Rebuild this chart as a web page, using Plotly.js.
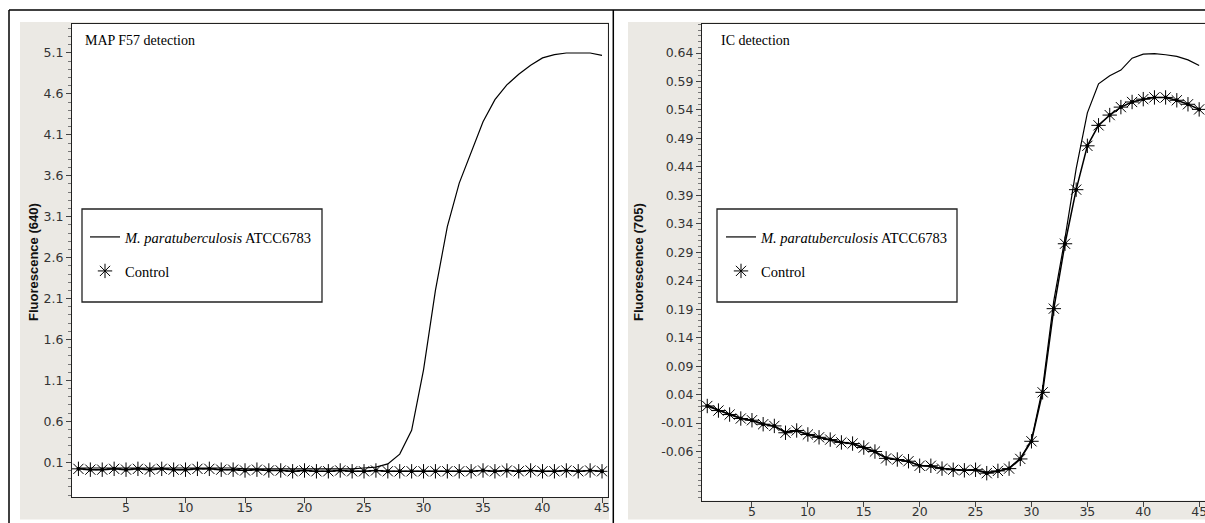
<!DOCTYPE html>
<html>
<head>
<meta charset="utf-8">
<script src="https://cdn.plot.ly/plotly-3.0.1.min.js"></script>
<style>
html,body{margin:0;padding:0;overflow:hidden;background:#fff;}
#chart{width:1215px;height:523px;}
</style>
</head>
<body>
<div id="chart"></div>
<script>
// ---------- data ----------
const cycles = [1,2,3,4,5,6,7,8,9,10,11,12,13,14,15,16,17,18,19,20,21,22,23,24,25,26,27,28,29,30,31,32,33,34,35,36,37,38,39,40,41,42,43,44,45];

// Left panel: MAP F57 detection, Fluorescence (640)
const mapF57 = [0.03,0.03,0.03,0.03,0.03,0.03,0.03,0.03,0.03,0.03,0.03,0.03,0.03,0.03,0.02,0.02,0.02,0.02,0.02,0.02,0.02,0.02,0.02,0.02,0.03,0.04,
  0.08,0.20,0.49,1.23,2.20,2.98,3.51,3.89,4.26,4.53,4.71,4.84,4.95,5.04,5.08,5.10,5.10,5.10,5.07];
const ctrlF57 = [0.02,0.01,0.01,0.02,0.01,0.02,0.01,0.02,0.01,0.01,0.02,0.02,0.01,0.01,0.00,0.01,0.00,0.00,-0.01,0.00,-0.01,-0.01,0.00,-0.01,-0.01,
  0.00,-0.01,-0.01,-0.01,-0.01,-0.01,-0.01,-0.01,-0.01,0.00,-0.01,0.00,-0.01,0.00,-0.01,-0.01,0.00,-0.01,0.00,-0.01];

// Right panel: IC detection, Fluorescence (705)
const mapIC = [0.022,0.013,0.006,-0.001,-0.006,-0.011,-0.016,-0.025,-0.024,-0.030,-0.035,-0.040,-0.043,-0.047,-0.053,-0.061,-0.070,-0.074,-0.078,-0.084,
  -0.086,-0.089,-0.092,-0.093,-0.093,-0.096,-0.095,-0.089,-0.072,-0.040,0.052,0.205,0.315,0.437,0.535,0.586,0.600,0.610,0.631,0.638,0.639,0.637,0.634,0.628,0.618];
const ctrlIC = [0.020,0.012,0.005,-0.002,-0.005,-0.012,-0.015,-0.027,-0.023,-0.030,-0.035,-0.039,-0.044,-0.046,-0.053,-0.060,-0.072,-0.074,-0.077,-0.085,
  -0.085,-0.090,-0.092,-0.093,-0.092,-0.098,-0.094,-0.090,-0.073,-0.042,0.044,0.191,0.305,0.400,0.477,0.513,0.531,0.545,0.554,0.559,0.562,0.562,0.557,0.550,0.541];

// tick labels
const xTicks = [5,10,15,20,25,30,35,40,45];
const yTicksLeft = [0.1,0.6,1.1,1.6,2.1,2.6,3.1,3.6,4.1,4.6,5.1];
const yTickTextLeft = ["0.1","0.6","1.1","1.6","2.1","2.6","3.1","3.6","4.1","4.6","5.1"];
const yTicksRight = [-0.06,-0.01,0.04,0.09,0.14,0.19,0.24,0.29,0.34,0.39,0.44,0.49,0.54,0.59,0.64];
const yTickTextRight = ["-0.06","-0.01","0.04","0.09","0.14","0.19","0.24","0.29","0.34","0.39","0.44","0.49","0.54","0.59","0.64"];

const titleLeft = "MAP F57 detection";
const titleRight = "IC detection";
const yTitleLeft = "Fluorescence (640)";
const yTitleRight = "Fluorescence (705)";
const nameMap = "<i>M. paratuberculosis</i> ATCC6783";
const nameCtrl = "Control";

// ---------- layout helpers ----------
const W = 1215, H = 523;
const px = v => v / W;
const py = v => 1 - v / H;

const tickFont = {family: "DejaVu Sans, Liberation Sans, sans-serif", size: 12.5, color: "#333"};
const serif = "Liberation Serif, Times New Roman, serif";

function minorVals(start, stop, step) {
  const out = [];
  const n = Math.round((stop - start) / step);
  for (let i = 0; i <= n; i++) out.push(+(start + i * step).toFixed(4));
  return out;
}

function xAxis(domain, range, anchor) {
  return {
    domain: domain, range: range, anchor: anchor,
    tickmode: "array", tickvals: xTicks, ticktext: xTicks.map(String),
    ticks: "outside", ticklen: 5, tickcolor: "#444", tickwidth: 1, ticklabelstandoff: -6,
    showline: true, mirror: true, linecolor: "#222", linewidth: 1,
    showgrid: false, zeroline: false, tickfont: tickFont, fixedrange: true
  };
}
function yAxis(domain, range, anchor, vals, text, minor) {
  return {
    domain: domain, range: range, anchor: anchor,
    tickmode: "array", tickvals: vals, ticktext: text,
    ticks: "outside", ticklen: 5, tickcolor: "#444", tickwidth: 1,
    minor: {tickmode: "array", tickvals: minor, ticks: "outside", ticklen: 3, tickcolor: "#777", tickwidth: 1, showgrid: false},
    showline: true, mirror: true, linecolor: "#222", linewidth: 1,
    showgrid: false, zeroline: false, tickfont: tickFont, fixedrange: true
  };
}

const black = "#000";
const traces = [
  // left panel
  {x: cycles, y: mapF57, xaxis: "x", yaxis: "y", mode: "lines", name: nameMap,
   line: {color: black, width: 1.2}, legend: "legend"},
  {x: cycles, y: ctrlF57, xaxis: "x", yaxis: "y", mode: "lines+markers", showlegend: false,
   line: {color: black, width: 1.5}, marker: {symbol: "circle", size: 4, color: black}},
  {x: cycles, y: ctrlF57, xaxis: "x", yaxis: "y", mode: "markers", name: nameCtrl,
   marker: {symbol: "asterisk-open", size: 12, color: black, line: {color: black, width: 1}}, legend: "legend2"},
  // right panel
  {x: cycles, y: mapIC, xaxis: "x2", yaxis: "y2", mode: "lines", name: nameMap,
   line: {color: black, width: 1.2}, legend: "legend3"},
  {x: cycles, y: ctrlIC, xaxis: "x2", yaxis: "y2", mode: "lines+markers", showlegend: false,
   line: {color: black, width: 1.5}, marker: {symbol: "circle", size: 4, color: black}},
  {x: cycles, y: ctrlIC, xaxis: "x2", yaxis: "y2", mode: "markers", name: nameCtrl,
   marker: {symbol: "asterisk-open", size: 12, color: black, line: {color: black, width: 1}}, legend: "legend4"}
];

function legendAt(left, cy) {
  return {x: px(left), xanchor: "left", y: py(cy), yanchor: "middle",
    bgcolor: "rgba(0,0,0,0)", borderwidth: 0,
    font: {family: serif, size: 14.5, color: black}, itemwidth: 30};
}

const gray = "#ebe9e4";
const shapes = [
  {type: "rect", xref: "paper", yref: "paper", x0: px(20), x1: px(609), y0: py(519.5), y1: py(22), fillcolor: gray, line: {width: 0}, layer: "below"},
  {type: "rect", xref: "paper", yref: "paper", x0: px(628), x1: px(1215), y0: py(519.5), y1: py(22), fillcolor: gray, line: {width: 0}, layer: "below"},
  // white plot areas
  {type: "rect", xref: "paper", yref: "paper", x0: px(72), x1: px(607.5), y0: py(497), y1: py(24), fillcolor: "#fff", line: {width: 0}, layer: "below"},
  {type: "rect", xref: "paper", yref: "paper", x0: px(702), x1: px(1215), y0: py(500.5), y1: py(24), fillcolor: "#fff", line: {width: 0}, layer: "below"},
  // outer frame
  {type: "line", xref: "paper", yref: "paper", x0: px(9), x1: px(1215), y0: py(10), y1: py(10), line: {color: black, width: 1.5}},
  {type: "line", xref: "paper", yref: "paper", x0: px(9), x1: px(9), y0: py(10), y1: py(523), line: {color: black, width: 1.5}},
  {type: "line", xref: "paper", yref: "paper", x0: px(613.3), x1: px(613.3), y0: py(10), y1: py(523), line: {color: black, width: 1.5}},
  // legend boxes
  {type: "rect", xref: "paper", yref: "paper", x0: px(82), x1: px(322), y0: py(302), y1: py(209), fillcolor: "rgba(255,255,255,0)", line: {color: "#222", width: 1.3}, layer: "above"},
  {type: "rect", xref: "paper", yref: "paper", x0: px(717), x1: px(957), y0: py(302), y1: py(209), fillcolor: "rgba(255,255,255,0)", line: {color: "#222", width: 1.3}, layer: "above"}
];

const yTitleFont = {family: "Liberation Sans, Arial, sans-serif", size: 13, color: "#111", weight: "bold"};
const annotations = [
  {text: titleLeft, xref: "paper", yref: "paper", x: px(83), y: py(41), xanchor: "left", yanchor: "middle", showarrow: false,
   font: {family: serif, size: 14, color: black}},
  {text: titleRight, xref: "paper", yref: "paper", x: px(719), y: py(41), xanchor: "left", yanchor: "middle", showarrow: false,
   font: {family: serif, size: 14, color: black}},
  {text: "<b>" + yTitleLeft + "</b>", xref: "paper", yref: "paper", x: px(33), y: py(262), xanchor: "center", yanchor: "middle", textangle: -90, showarrow: false,
   font: yTitleFont},
  {text: "<b>" + yTitleRight + "</b>", xref: "paper", yref: "paper", x: px(638), y: py(262), xanchor: "center", yanchor: "middle", textangle: -90, showarrow: false,
   font: yTitleFont}
];

const layout = {
  width: W, height: H,
  margin: {l: 0, r: 0, t: 0, b: 0, pad: 0},
  paper_bgcolor: "#fff", plot_bgcolor: "rgba(0,0,0,0)",
  xaxis: xAxis([px(72), px(607.5)], [0.46, 45.46], "y"),
  yaxis: yAxis([py(497), py(24)], [-0.324, 5.454], "x", yTicksLeft, yTickTextLeft, minorVals(-0.3, 5.4, 0.1)),
  xaxis2: xAxis([px(702), px(1210)], [0.53, 45.97], "y2"),
  yaxis2: yAxis([py(500.5), py(24)], [-0.146, 0.691], "x2", yTicksRight, yTickTextRight, minorVals(-0.14, 0.69, 0.01)),
  legend: legendAt(85, 237),
  legend2: legendAt(85, 271),
  legend3: legendAt(721, 237),
  legend4: legendAt(721, 271),
  shapes: shapes,
  annotations: annotations,
  showlegend: true
};

Plotly.newPlot("chart", traces, layout, {staticPlot: true, displayModeBar: false});
</script>
</body>
</html>
